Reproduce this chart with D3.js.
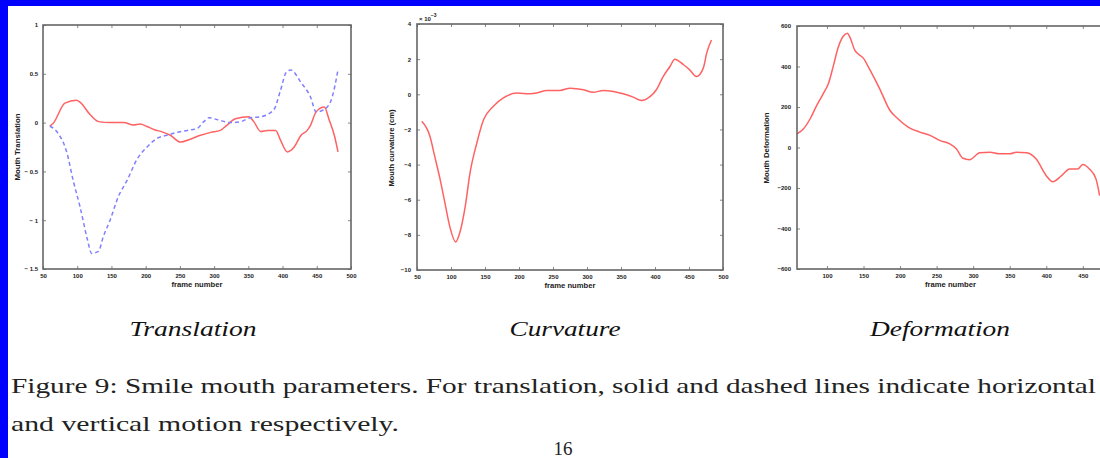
<!DOCTYPE html>
<html><head><meta charset="utf-8">
<script src="https://cdn.jsdelivr.net/npm/d3@7"></script>
<style>
html,body{margin:0;padding:0;background:#fff;}
svg{display:block;}
.tick text{font-family:"Liberation Sans",Arial,sans-serif;font-weight:bold;font-size:6px;fill:#222;}
.serif{font-family:"Liberation Serif","Times New Roman",serif;}
</style>
</head><body>
<svg id="c" width="1100" height="458"></svg>
<script>
// ---------- data ----------
const xTickValues = [50,100,150,200,250,300,350,400,450,500];
const defXTickValues = [100,150,200,250,300,350,400,450];

// Translation: horizontal (solid red)
const transHx = [60,65,82,99,104,119,131,148,168,182,192,202,212,226,236,251,265,280,295,309,319,331,351,358,368,378,390,397,407,417,427,436,441,449,461,468,476,481];
const transHy = [-0.035,-0.007,0.20,0.23,0.21,0.08,0.01,0.0,0.0,-0.025,-0.015,-0.04,-0.07,-0.10,-0.13,-0.20,-0.17,-0.13,-0.10,-0.08,-0.025,0.04,0.06,0.01,-0.09,-0.08,-0.08,-0.18,-0.30,-0.25,-0.13,-0.08,-0.025,0.11,0.16,0.03,-0.14,-0.30];
// Translation: vertical (dashed blue)
const transVx = [60,72,85,94,104,115,121,131,138,148,160,173,187,202,217,231,246,261,275,285,292,305,324,339,353,368,387,397,405,412,427,441,449,460,471,481];
const transVy = [-0.035,-0.11,-0.31,-0.59,-0.86,-1.20,-1.34,-1.32,-1.17,-1.0,-0.76,-0.59,-0.38,-0.25,-0.16,-0.13,-0.10,-0.08,-0.06,0.01,0.05,0.03,0.0,0.01,0.05,0.06,0.13,0.33,0.51,0.54,0.41,0.26,0.11,0.13,0.23,0.54];
const transYTicks = [1,0.5,0,-0.5,-1,-1.5];
const transYLabels = ["1","0.5","0","\u2212 0.5","\u2212 1","\u2212 1.5"];

// Curvature (x 10^-3)
const curvX = [57,69,76,84,91,98,107,113,121,128,138,148,162,177,197,216,226,241,260,275,295,309,324,339,353,368,380,393,402,412,422,429,442,451,461,471,476,483];
const curvY = [-1.54,-2.39,-3.52,-4.84,-6.17,-7.49,-8.4,-7.87,-6.36,-4.47,-2.77,-1.44,-0.69,-0.21,0.07,0.03,0.07,0.22,0.22,0.35,0.26,0.11,0.22,0.16,0.03,-0.16,-0.35,-0.12,0.26,1.01,1.58,2.0,1.68,1.39,1.01,1.49,2.34,3.09];
const curvYTicks = [4,2,0,-2,-4,-6,-8,-10];
const curvYLabels = ["4","2","0","\u22122","\u22124","\u22126","\u22128","\u221210"];

// Deformation
const defX = [59,68,77,86,95,102,109,115,122,128,131,138,150,159,172,186,197,211,227,241,254,268,277,286,295,309,323,336,350,359,373,386,400,409,421,432,443,450,459,468,473];
const defY = [68,93,142,208,266,316,407,490,548,564,548,481,440,382,291,184,142,101,76,60,35,18,-6,-53,-60,-26,-23,-31,-31,-23,-26,-56,-139,-169,-139,-106,-106,-84,-106,-155,-238];
const defYTicks = [600,400,200,0,-200,-400,-600];
const defYLabels = ["600","400","200","0","\u2212200","\u2212400","\u2212600"];

const titles = ["Translation","Curvature","Deformation"];
const yAxisTitles = ["Mouth Translation","Mouth curvature (cm)","Mouth Deformation"];
const xAxisTitle = "frame number";
const captionLine1 = "Figure 9: Smile mouth parameters.  For translation, solid and dashed lines indicate horizontal";
const captionLine2 = "and vertical motion respectively.";
const pageNumber = "16";

// ---------- drawing ----------
const svg = d3.select("#c");
svg.append("rect").attr("width",1100).attr("height",458).attr("fill","#fff");

const RED = "#ff6262", BLUE = "#8080ff";

function panel(o){
  const g = svg.append("g");
  const x = d3.scaleLinear().domain(o.xDomain).range([o.left,o.right]);
  const y = d3.scaleLinear().domain(o.yDomain).range([o.bottom,o.top]);
  const clipId = "clip"+o.id;
  svg.append("clipPath").attr("id",clipId).append("rect")
    .attr("x",o.left).attr("y",o.top).attr("width",o.right-o.left).attr("height",o.bottom-o.top);

  g.append("g").attr("transform",`translate(0,${o.bottom})`)
    .call(d3.axisBottom(x).tickValues(o.xTicks).tickSizeInner(-3).tickSizeOuter(0).tickPadding(5).tickFormat(d=>String(d)));
  g.append("g").attr("transform",`translate(0,${o.top})`)
    .call(d3.axisTop(x).tickValues(o.xTicks).tickSizeInner(-3).tickSizeOuter(0).tickFormat(""));
  g.append("g").attr("transform",`translate(${o.left},0)`)
    .call(d3.axisLeft(y).tickValues(o.yTicks).tickSizeInner(-3).tickSizeOuter(0).tickPadding(o.yPad)
      .tickFormat((d,i)=>o.yLabels[i]));
  g.append("g").attr("transform",`translate(${o.right},0)`)
    .call(d3.axisRight(y).tickValues(o.yTicks).tickSizeInner(-3).tickSizeOuter(0).tickFormat(""));
  g.selectAll(".domain").remove();
  g.selectAll(".tick line").attr("stroke","#888").attr("stroke-width",1);

  o.series.forEach(s=>{
    const pts = s.x.map((v,i)=>[v,s.y[i]]);
    g.append("path").datum(pts)
      .attr("clip-path",`url(#${clipId})`)
      .attr("fill","none").attr("stroke",s.color).attr("stroke-width",1.5)
      .attr("stroke-dasharray",s.dash||null)
      .attr("d",d3.line().x(d=>x(d[0])).y(d=>y(d[1])).curve(d3.curveMonotoneX));
  });

  g.append("rect").attr("x",o.left).attr("y",o.top)
    .attr("width",o.right-o.left).attr("height",o.bottom-o.top)
    .attr("fill","none").attr("stroke","#666").attr("stroke-width",1.6);

  g.append("text").attr("x",(o.left+o.right)/2).attr("y",o.bottom+18)
    .attr("text-anchor","middle").attr("font-family","Liberation Sans,Arial,sans-serif")
    .attr("font-weight","bold").attr("font-size",7).attr("fill","#222")
    .attr("textLength",51).attr("lengthAdjust","spacingAndGlyphs").text(xAxisTitle);
  g.append("text").attr("transform",`translate(${o.ylabX},${o.ylabY}) rotate(-90)`)
    .attr("text-anchor","middle").attr("font-family","Liberation Sans,Arial,sans-serif")
    .attr("font-weight","bold").attr("font-size",6.5).attr("fill","#222")
    .attr("textLength",o.ylabLen).attr("lengthAdjust","spacingAndGlyphs").text(o.ylab);

  svg.append("text").attr("class","serif").attr("x",o.titleX).attr("y",336).attr("text-anchor","middle")
    .attr("font-style","italic").attr("font-size",21).attr("fill","#111")
    .attr("textLength",o.titleLen).attr("lengthAdjust","spacingAndGlyphs").text(o.title);
  return {x,y,g};
}

panel({id:1,left:43,right:351,top:25,bottom:269,xDomain:[50,500],yDomain:[-1.5,1],
  xTicks:xTickValues,yTicks:transYTicks,yLabels:transYLabels,yPad:5,
  series:[{x:transHx,y:transHy,color:RED},{x:transVx,y:transVy,color:BLUE,dash:"4,3"}],
  ylab:yAxisTitles[0],ylabX:20,ylabY:147,ylabLen:67,title:titles[0],titleX:193,titleLen:127});

panel({id:2,left:417,right:723,top:24,bottom:270,xDomain:[50,500],yDomain:[-10,4],
  xTicks:xTickValues,yTicks:curvYTicks,yLabels:curvYLabels,yPad:6,
  series:[{x:curvX,y:curvY,color:RED}],
  ylab:yAxisTitles[1],ylabX:394,ylabY:148,ylabLen:77,title:titles[1],titleX:565,titleLen:111});
const ex = svg.append("text").attr("x",419).attr("y",21).attr("font-family","Liberation Sans,Arial,sans-serif")
  .attr("font-weight","bold").attr("font-size",6).attr("fill","#222");
ex.append("tspan").text("\u00d7 10");
ex.append("tspan").attr("dy",-4).attr("font-size",5).text("\u22123");

panel({id:3,left:797,right:1104,top:26,bottom:269,xDomain:[59,479],yDomain:[-600,600],
  xTicks:defXTickValues,yTicks:defYTicks,yLabels:defYLabels,yPad:6,
  series:[{x:defX,y:defY,color:RED}],
  ylab:yAxisTitles[2],ylabX:769,ylabY:148,ylabLen:71,title:titles[2],titleX:940,titleLen:140});

// caption, kept fully inside the visible area
svg.append("text").attr("class","serif").attr("x",11).attr("y",393)
  .attr("font-size",21).attr("fill","#222")
  .attr("textLength",1085).attr("lengthAdjust","spacingAndGlyphs").text(captionLine1);
svg.append("text").attr("class","serif").attr("x",11).attr("y",431)
  .attr("font-size",21).attr("fill","#222")
  .attr("textLength",388).attr("lengthAdjust","spacingAndGlyphs").text(captionLine2);
svg.append("text").attr("class","serif").attr("x",563).attr("y",455).attr("text-anchor","middle")
  .attr("font-size",19).attr("fill","#222").text(pageNumber);

// blue scanner borders
svg.append("rect").attr("x",0).attr("y",0).attr("width",1100).attr("height",6).attr("fill","#0000ff");
svg.append("rect").attr("x",0).attr("y",0).attr("width",8).attr("height",458).attr("fill","#0000ff");
</script>
</body></html>
